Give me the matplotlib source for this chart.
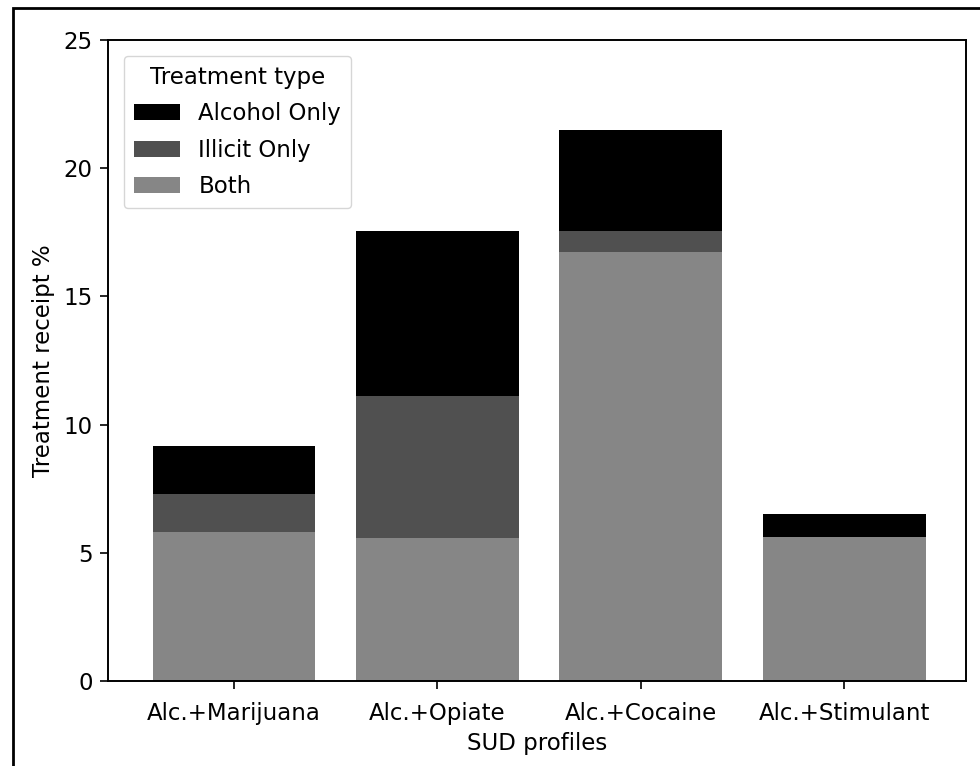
"""Stacked bar chart of treatment receipt by SUD profile."""

import matplotlib

matplotlib.use("Agg")

import matplotlib.pyplot as plt
from matplotlib.patches import Rectangle

profiles = ["Alc.+Marijuana", "Alc.+Opiate", "Alc.+Cocaine", "Alc.+Stimulant"]
both = [5.81, 5.58, 16.73, 5.62]
illicit_only = [1.50, 5.54, 0.82, 0.0]
alcohol_only = [1.84, 6.44, 3.94, 0.89]

C_ALC = "#000000"
C_ILL = "#505050"
C_BOTH = "#868686"

plt.rcParams["font.family"] = "DejaVu Sans"
plt.rcParams["font.size"] = 16.5
plt.rcParams["axes.linewidth"] = 1.4

fig = plt.figure(figsize=(9.8, 7.66), dpi=100)
ax = fig.add_axes([0.110, 0.111, 0.876, 0.837])

x = range(len(profiles))
bottom2 = [b + i for b, i in zip(both, illicit_only)]
b_both = ax.bar(x, both, width=0.8, color=C_BOTH, label="Both")
b_ill = ax.bar(x, illicit_only, width=0.8, bottom=both, color=C_ILL, label="Illicit Only")
b_alc = ax.bar(x, alcohol_only, width=0.8, bottom=bottom2, color=C_ALC, label="Alcohol Only")

ax.set_xlim(-0.62, 3.60)
ax.set_ylim(0, 25)
ax.set_yticks([0, 5, 10, 15, 20, 25])
ax.set_xticks(list(x))
ax.set_xticklabels(profiles)
ax.set_xlabel("SUD profiles", labelpad=5)
ax.set_ylabel("Treatment receipt %", labelpad=6)
ax.tick_params(axis="x", length=6, width=1.2, pad=9)
ax.tick_params(axis="y", length=6, width=1.2, pad=5)

ax.legend([b_alc, b_ill, b_both], ["Alcohol Only", "Illicit Only", "Both"],
          title="Treatment type", loc="upper left", title_fontsize=16.5,
          labelspacing=0.58, borderpad=0.45, handlelength=2.0,
          borderaxespad=0.7)

# thin frame around the whole picture, like the scanned original
fig.patches.append(Rectangle((13 / 980, -0.1), 1.2, 1.1 - 8 / 766,
                             transform=fig.transFigure, fill=False,
                             edgecolor="black", linewidth=2))

fig.savefig("out.png", dpi=100, facecolor="white")
